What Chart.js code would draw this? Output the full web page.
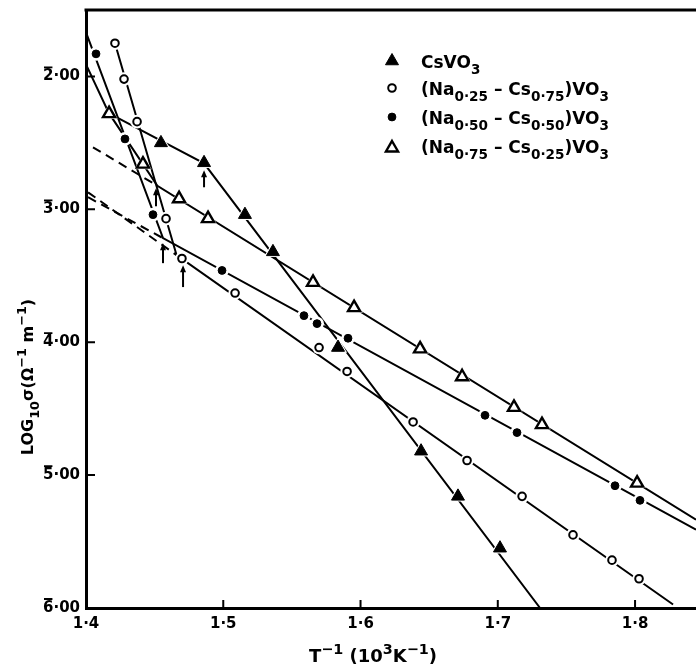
<!DOCTYPE html>
<html>
<head>
<meta charset="utf-8">
<script src="https://cdn.jsdelivr.net/npm/chart.js@4.4.1/dist/chart.umd.min.js"></script>
<style>
  html, body { margin: 0; padding: 0; background: #fff; overflow: hidden; }
  canvas { display: block; }
</style>
</head>
<body>
<canvas id="cond" width="696" height="668"></canvas>
<script>
// inverse temperature (10^3 K^-1) and log10 conductivity for each composition
const csX   = [1.4546, 1.4860, 1.5158, 1.5362, 1.5836, 1.6441, 1.6710, 1.7016];
const csY   = [-2.50, -2.65, -3.04, -3.32, -4.04, -4.82, -5.16, -5.55];

const na25X = [1.4211, 1.4277, 1.4372, 1.4583, 1.4699, 1.5086, 1.5698, 1.5902, 1.6383, 1.6776, 1.7177, 1.7548, 1.7832, 1.8029];
const na25Y = [-1.75, -2.02, -2.34, -3.07, -3.37, -3.63, -4.04, -4.22, -4.60, -4.89, -5.16, -5.45, -5.64, -5.78];

const na50X = [1.4073, 1.4284, 1.4488, 1.4991, 1.5588, 1.5683, 1.5909, 1.6907, 1.7140, 1.7854, 1.8036];
const na50Y = [-1.83, -2.47, -3.04, -3.46, -3.80, -3.86, -3.97, -4.55, -4.68, -5.08, -5.19];

const na75X = [1.4168, 1.4415, 1.4678, 1.4889, 1.5654, 1.5953, 1.6434, 1.6740, 1.7118, 1.7322, 1.8015];
const na75Y = [-2.28, -2.66, -2.92, -3.07, -3.55, -3.74, -4.05, -4.26, -4.49, -4.62, -5.06];

// straight-line fits (two regions each) and their dashed extrapolations
const csFitX   = [1.4189, 1.4860, 1.7308];
const csFitY   = [-2.29, -2.654, -6.0];
const na25FitX = [1.4211, 1.4660, 1.8277];
const na25FitY = [-1.75, -3.345, -5.974];
const na50FitX = [1.4000, 1.4561, 1.8444];
const na50FitY = [-1.669, -3.217, -5.411];
const na75FitX = [1.4000, 1.4168, 1.4520, 1.8444];
const na75FitY = [-1.91, -2.278, -2.823, -5.336];

const na25ExtX = [1.4015, 1.4660];
const na25ExtY = [-2.872, -3.345];
const na50ExtX = [1.4015, 1.4561];
const na50ExtY = [-2.909, -3.217];
const na75ExtX = [1.4051, 1.4520];
const na75ExtY = [-2.533, -2.823];

// break points marked with arrows
const arrowX    = [1.4860, 1.4510, 1.4561, 1.4707];
const arrowTip  = [-2.706, -2.841, -3.255, -3.420];
const arrowTail = [-2.834, -2.977, -3.405, -3.585];

const xTicks = [1.4, 1.5, 1.6, 1.7, 1.8];
const yTicks = [-2, -3, -4, -5, -6];

const legendLabels = [
  [['CsVO', ''], ['3', 'sub']],
  [['(Na', ''], ['0·25', 'sub'], [' – ', ''], ['Cs', ''], ['0·75', 'sub'], [')VO', ''], ['3', 'sub']],
  [['(Na', ''], ['0·50', 'sub'], [' – ', ''], ['Cs', ''], ['0·50', 'sub'], [')VO', ''], ['3', 'sub']],
  [['(Na', ''], ['0·75', 'sub'], [' – ', ''], ['Cs', ''], ['0·25', 'sub'], [')VO', ''], ['3', 'sub']]
];
const xTitle = [['T', ''], ['−1', 'sup'], [' (10', ''], ['3', 'sup'], ['K', ''], ['−1', 'sup'], [')', '']];
const yTitle = [['LOG', ''], ['10', 'sub'], ['σ(Ω', ''], ['−1', 'sup'], [' m', ''], ['−1', 'sup'], [')', '']];

const FONT = "'DejaVu Sans', sans-serif";
const TICK_FONT = 'bold 15px ' + FONT;

const pts = (xs, ys) => xs.map((x, i) => ({ x: x, y: ys[i] }));

const markers = [
  { data: pts(csX, csY),     style: 'triangle', r: 7.5, fill: '#000', bw: 1 },
  { data: pts(na25X, na25Y), style: 'circle',   r: 3.8, fill: '#fff', bw: 2 },
  { data: pts(na50X, na50Y), style: 'circle',   r: 3.9, fill: '#000', bw: 1 },
  { data: pts(na75X, na75Y), style: 'triangle', r: 7,   fill: '#fff', bw: 2.4 }
];

function lineSet(xs, ys, dashed) {
  return {
    data: pts(xs, ys), showLine: true, borderColor: '#000', borderWidth: 2,
    borderDash: dashed ? [9, 6] : [], pointRadius: 0, tension: 0, order: 3
  };
}

const datasets = [
  lineSet(csFitX, csFitY), lineSet(na25FitX, na25FitY),
  lineSet(na50FitX, na50FitY), lineSet(na75FitX, na75FitY),
  lineSet(na25ExtX, na25ExtY, true), lineSet(na50ExtX, na50ExtY, true),
  lineSet(na75ExtX, na75ExtY, true)
];
markers.forEach(m => {
  // white ring so the lines stop short of each symbol
  datasets.push({ data: m.data, showLine: false, pointStyle: m.style, pointRadius: m.r + 3,
    pointBackgroundColor: '#fff', pointBorderColor: '#fff', pointBorderWidth: 0, order: 2 });
  datasets.push({ data: m.data, showLine: false, pointStyle: m.style, pointRadius: m.r,
    pointBackgroundColor: m.fill, pointBorderColor: '#000', pointBorderWidth: m.bw, order: 1 });
});

function drawRich(ctx, parts, x, y, size, measureOnly) {
  let w = 0;
  for (const [t, k] of parts) {
    const s = k ? size * 0.8 : size;
    ctx.font = 'bold ' + s + 'px ' + FONT;
    const dy = k === 'sub' ? size * 0.36 : (k === 'sup' ? -size * 0.45 : 0);
    if (!measureOnly) ctx.fillText(t, x + w, y + dy);
    w += ctx.measureText(t).width;
  }
  return w;
}

const tickLabel = v => String(Math.abs(v)) + '·00';

const decor = {
  id: 'decor',
  afterDatasetsDraw(chart) {
    const ctx = chart.ctx, a = chart.chartArea;
    const xs = chart.scales.x, ys = chart.scales.y;
    ctx.save();
    ctx.strokeStyle = '#000';
    ctx.fillStyle = '#000';

    // top frame line
    ctx.lineWidth = 3;
    ctx.beginPath();
    ctx.moveTo(a.left - 1.5, a.top);
    ctx.lineTo(a.right, a.top);
    ctx.stroke();

    // inward tick marks
    ctx.lineWidth = 2;
    ctx.beginPath();
    yTicks.forEach(v => {
      const py = ys.getPixelForValue(v);
      ctx.moveTo(a.left, py); ctx.lineTo(a.left + 9, py);
    });
    xTicks.slice(1).forEach(v => {
      const px = xs.getPixelForValue(v);
      ctx.moveTo(px, a.bottom); ctx.lineTo(px, a.bottom - 8);
    });
    ctx.stroke();

    // bar over the characteristic of each y label (negative log notation)
    ctx.font = TICK_FONT;
    ctx.lineWidth = 1.8;
    ctx.beginPath();
    yTicks.forEach(v => {
      const py = ys.getPixelForValue(v);
      const right = a.left - 6;
      const left = right - ctx.measureText(tickLabel(v)).width;
      const dw = ctx.measureText(String(Math.abs(v))).width;
      ctx.moveTo(left + 1, py - 9); ctx.lineTo(left + dw - 1, py - 9);
    });
    ctx.stroke();

    // arrows at the breaks
    arrowX.forEach((v, i) => {
      const px = xs.getPixelForValue(v);
      const tip = ys.getPixelForValue(arrowTip[i]);
      const tail = ys.getPixelForValue(arrowTail[i]);
      ctx.lineWidth = 2;
      ctx.beginPath();
      ctx.moveTo(px, tail); ctx.lineTo(px, tip + 5);
      ctx.stroke();
      ctx.beginPath();
      ctx.moveTo(px, tip); ctx.lineTo(px - 3, tip + 7); ctx.lineTo(px + 3, tip + 7);
      ctx.closePath();
      ctx.fill();
    });

    // legend
    const legY = [61, 88, 117, 148];
    const baseY = [68, 95, 124, 153];
    markers.forEach((m, i) => {
      ctx.fillStyle = m.fill;
      ctx.strokeStyle = '#000';
      ctx.lineWidth = m.bw;
      Chart.helpers.drawPoint(ctx, { pointStyle: m.style, radius: m.r, rotation: 0, borderWidth: m.bw }, 392, legY[i]);
      ctx.fillStyle = '#000';
      ctx.textBaseline = 'alphabetic';
      drawRich(ctx, legendLabels[i], 421, baseY[i], 17);
    });

    // axis titles
    const wx = drawRich(ctx, xTitle, 0, 0, 18, true);
    drawRich(ctx, xTitle, 373 - wx / 2, 662, 18);
    ctx.translate(33, 0);
    ctx.rotate(-Math.PI / 2);
    const wy = drawRich(ctx, yTitle, 0, 0, 16, true);
    drawRich(ctx, yTitle, -(377 + wy / 2), 0, 16);
    ctx.restore();
  }
};

new Chart(document.getElementById('cond'), {
  type: 'scatter',
  data: { datasets: datasets },
  options: {
    responsive: false,
    animation: false,
    devicePixelRatio: 1,
    layout: { autoPadding: false, padding: { top: 10, right: 0, left: 0, bottom: 0 } },
    plugins: { legend: { display: false }, tooltip: { enabled: false } },
    events: [],
    scales: {
      x: {
        type: 'linear', min: 1.4, max: 1.8444,
        border: { display: true, width: 3, color: '#000' },
        grid: { display: false, drawTicks: false },
        ticks: {
          color: '#000', padding: 7, font: { family: FONT, size: 15, weight: 'bold' },
          callback: v => v.toFixed(1).replace('.', '·')
        },
        afterBuildTicks: s => { s.ticks = xTicks.map(v => ({ value: v })); },
        afterFit: s => { s.height = 60; s.paddingLeft = 0; s.paddingRight = 0; }
      },
      y: {
        type: 'linear', min: -6, max: -1.5,
        border: { display: true, width: 3, color: '#000' },
        grid: { display: false, drawTicks: false },
        ticks: {
          color: '#000', padding: 6, font: { family: FONT, size: 15, weight: 'bold' },
          callback: v => tickLabel(v)
        },
        afterBuildTicks: s => { s.ticks = yTicks.map(v => ({ value: v })); },
        afterFit: s => { s.width = 86; s.paddingTop = 0; s.paddingBottom = 0; }
      }
    }
  },
  plugins: [decor]
});
</script>
</body>
</html>
